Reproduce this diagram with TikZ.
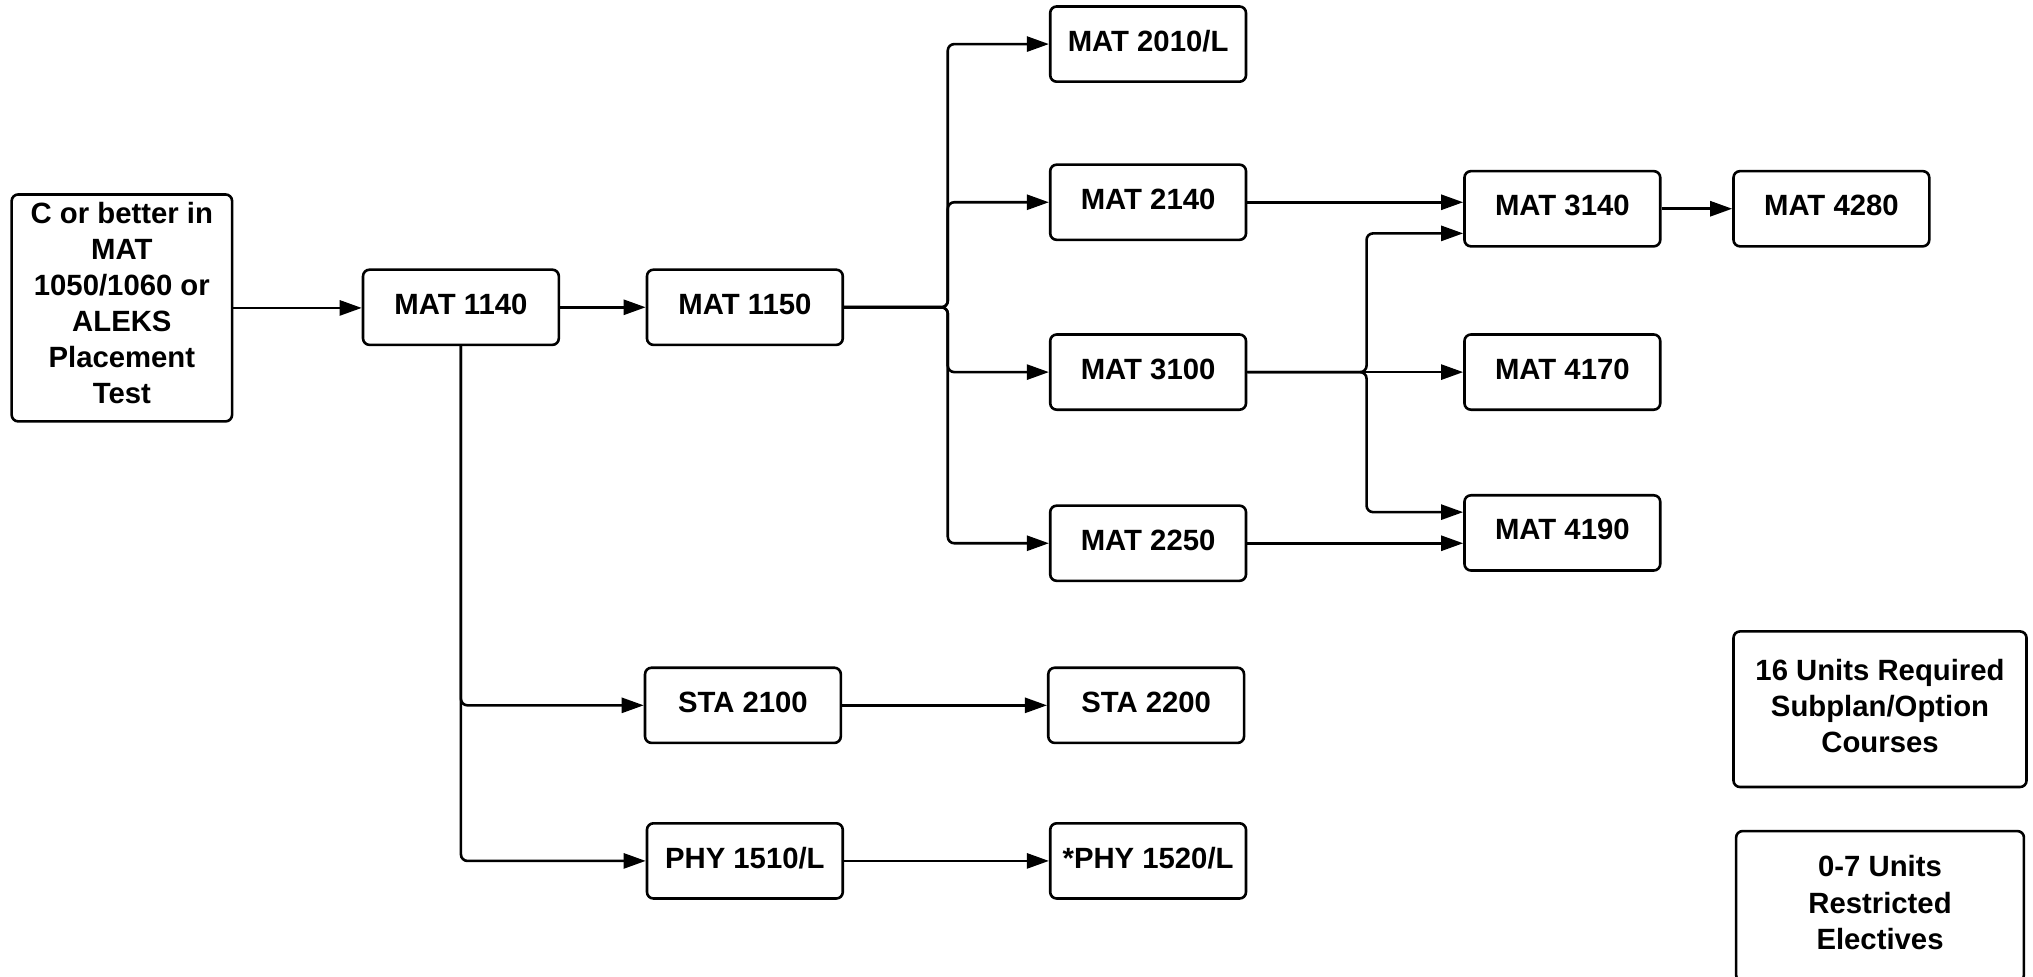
\documentclass[tikz,border=0pt]{standalone}
\usepackage{fontspec}
\setmainfont{Liberation Sans}
\usetikzlibrary{arrows.meta,calc}
\begin{document}
\begin{tikzpicture}[x=0.5pt,y=-0.5pt,
  box/.style={draw,line width=1pt,rounded corners=2.5pt,inner sep=0pt,
    font=\bfseries\fontsize{11.3}{13.9}\selectfont,align=center},
  crs/.style={box,minimum width=75.5pt,minimum height=29pt,text depth=0.25em},
  arr/.style={-{Triangle[length=8.5pt,width=5.8pt]},line width=1pt,rounded corners=2.5pt}]
\useasboundingbox (0,0) rectangle (1568,753);

\node[box,minimum width=85pt,minimum height=87.5pt] (start) at (94,237.5)
  {C or better in\\MAT\\1050/1060 or\\ALEKS\\Placement\\Test\rule[-4pt]{0pt}{0pt}};
\node[crs] (m1140) at (355.5,237) {MAT 1140};
\node[crs] (m1150) at (574.5,237) {MAT 1150};
\node[crs] (m2010) at (885.5,34) {MAT 2010/L};
\node[crs] (m2140) at (885.5,156) {MAT 2140};
\node[crs] (m3100) at (885.5,287) {MAT 3100};
\node[crs] (m2250) at (885.5,419) {MAT 2250};
\node[crs] (s2100) at (573,544) {STA 2100};
\node[crs] (s2200) at (884,544) {STA 2200};
\node[crs] (p1510) at (574.5,664) {PHY 1510/L};
\node[crs] (p1520) at (885.5,664) {*PHY 1520/L};
\node[crs] (m3140) at (1205,161) {MAT 3140};
\node[crs] (m4280) at (1412.5,161) {MAT 4280};
\node[crs] (m4170) at (1205,287) {MAT 4170};
\node[crs] (m4190) at (1205,411) {MAT 4190};
\node[box,minimum width=113pt,minimum height=60pt] (n16) at (1450,547)
  {16 Units Required\\Subplan/Option\\Courses\rule[-2.5pt]{0pt}{0pt}};
\node[box,minimum width=111pt,minimum height=58pt] (n07) at (1450,699)
  {0-7 Units\\Restricted\\Electives\rule[-3pt]{0pt}{0pt}};

\coordinate (j1) at (731,237);
\coordinate (j2) at (1054,287);

\draw[arr] (start.east) -- (start.east -| m1140.west);
\draw[arr] (m1140) -- (m1150);
\draw[arr] (m1150.east) -- (j1) |- (m2010.west);
\draw[arr] (m1150.east) -- (j1) |- (m2140.west);
\draw[arr] (m1150.east) -- (j1) |- (m3100.west);
\draw[arr] (m1150.east) -- (j1) |- (m2250.west);
\draw[arr] (m1140.south) |- (s2100.west);
\draw[arr] (m1140.south) |- (p1510.west);
\draw[arr] (s2100) -- (s2200);
\draw[arr] (p1510) -- (p1520);
\draw[arr] (m2140.east) -- (m2140.east -| m3140.west);
\draw[arr] (m3100.east) -- (m4170.west);
\draw[arr] (m3100.east) -- (j2) |- ($(m3140.west)+(0,19)$);
\draw[arr] (m3100.east) -- (j2) |- ($(m4190.west)+(0,-16)$);
\draw[arr] (m2250.east) -- (m2250.east -| m4190.west);
\draw[arr] (m3140) -- (m4280);
\end{tikzpicture}
\end{document}
